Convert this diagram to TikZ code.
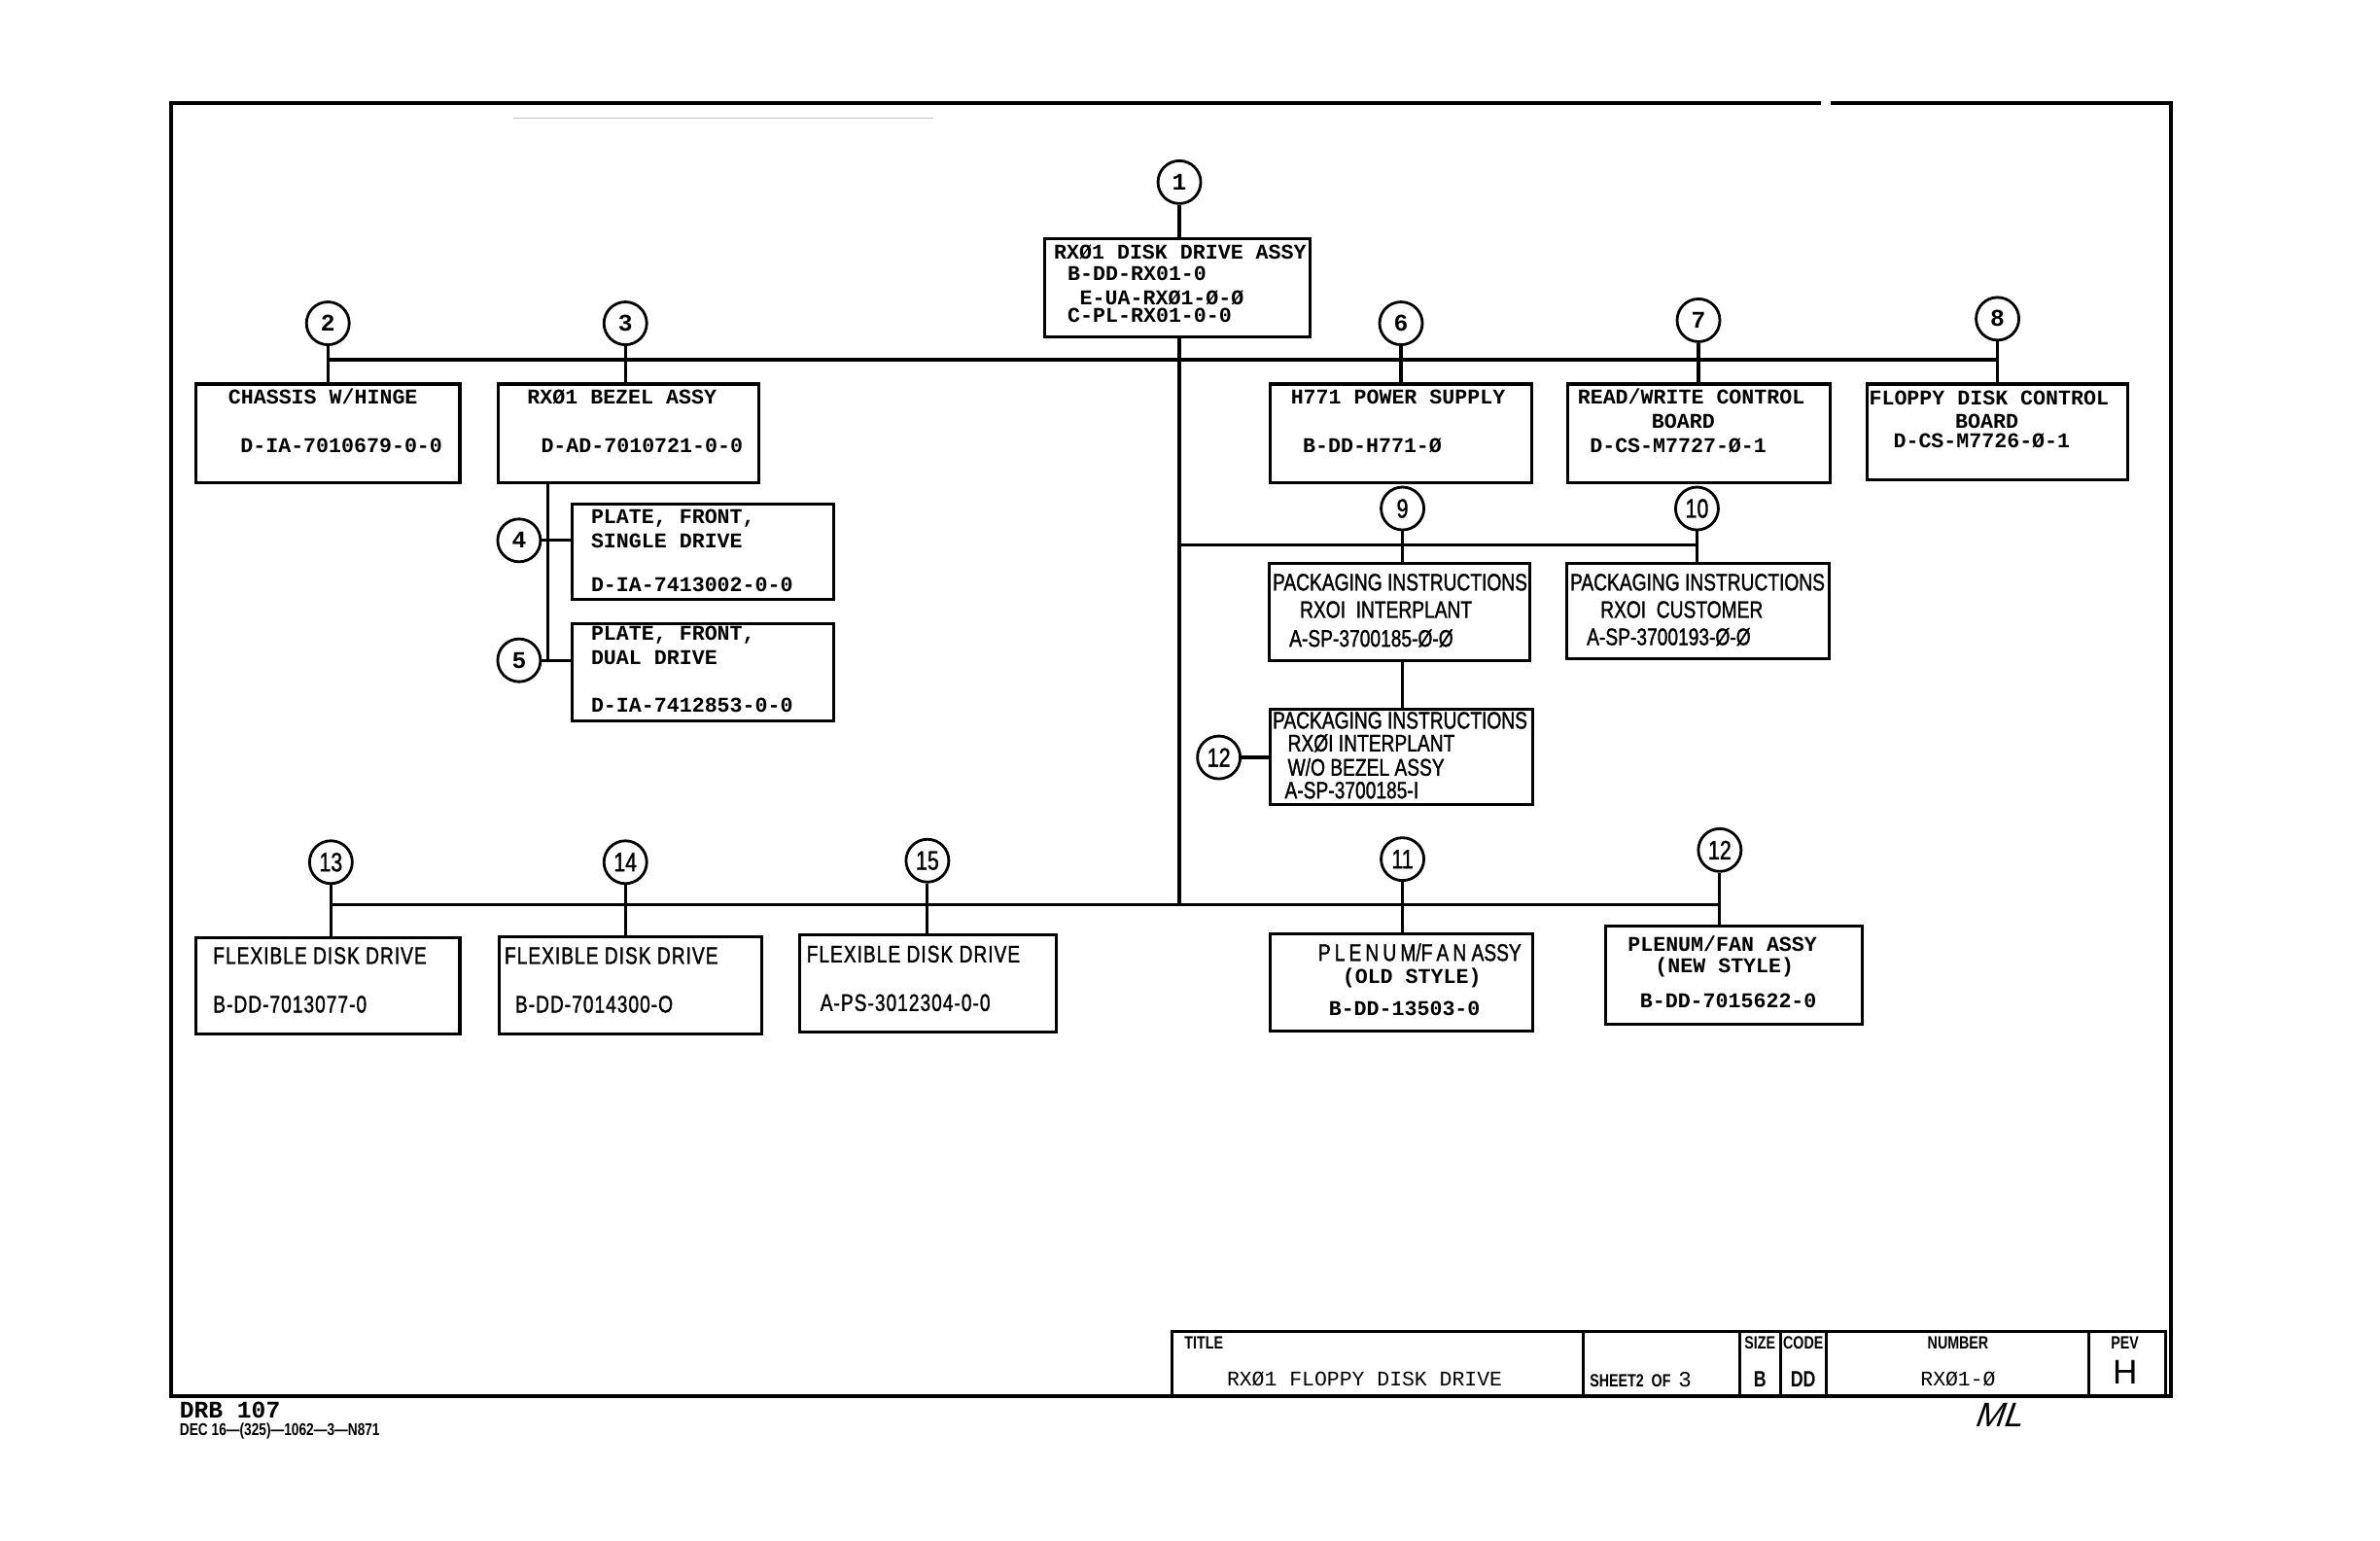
\documentclass[tikz,border=0pt]{standalone}
\usepackage{fontspec}
\usetikzlibrary{fit}
\newfontfamily\tw{Liberation Mono}
\newfontfamily\lt[FakeStretch=0.78, FakeBold=1.2]{Liberation Sans}
\newfontfamily\hd[FakeStretch=0.78]{Liberation Sans}
\newfontfamily\sig[FakeSlant=0.35]{Liberation Sans}
\tikzset{
  frame/.style={line width=1.1pt},
  box/.style={draw, line width=0.9pt, inner sep=0pt},
  circ/.style={draw, circle, line width=0.8pt, minimum size=0.44cm, inner sep=0pt},
  cnum/.style={circ, font=\tw\bfseries\fontsize{7}{7}\selectfont},
  snum/.style={circ, font=\lt\fontsize{7.8}{7.8}\selectfont},
  ln/.style={line width=0.9pt},
  ct/.style={anchor=base west, inner sep=0pt, font=\tw\bfseries\fontsize{6.15}{7}\selectfont},
  st/.style={anchor=base west, inner sep=0pt, font=\lt\fontsize{7}{7}\selectfont},
  wide/.style={font=\lt\addfontfeature{LetterSpace=4}\fontsize{7}{7}\selectfont},
  hdr/.style={anchor=base, inner sep=0pt, font=\hd\bfseries\fontsize{5.2}{6}\selectfont},
  tbt/.style={anchor=base, inner sep=0pt, font=\tw\fontsize{6.1}{7}\selectfont},
}
\begin{document}
\begin{tikzpicture}[x=0.015612cm, y=-0.015612cm]
\useasboundingbox (0,0) rectangle (1568,1015);
\fill[white] (0,0) rectangle (1568,1015);

% drawing frame
\draw[frame] (1200,68) -- (113,68) -- (113,920) -- (1430,920) -- (1430,68) -- (1206,68);
\draw[gray!50, line width=0.4pt] (338,78) -- (615,78);

% boxes
\node[box, fit={(688,157) (863,222)}] (b1) {};
\node[box, fit={(129,253) (303,318)}] (b2) {};
\node[box, fit={(328,253) (500,318)}] (b3) {};
\node[box, fit={(377,332) (549,395)}] (b4) {};
\node[box, fit={(377,411) (549,475)}] (b5) {};
\node[box, fit={(837,253) (1009,318)}] (b6) {};
\node[box, fit={(1033,253) (1206,318)}] (b7) {};
\node[box, fit={(1230,253) (1402,316)}] (b8) {};
\node[box, fit={(836,371) (1008,435)}] (b9) {};
\node[box, fit={(1032,371) (1205,434)}] (b10) {};
\node[box, fit={(837,467) (1010,530)}] (b12a) {};
\node[box, fit={(129,618) (303,681)}] (b13) {};
\node[box, fit={(329,617) (502,681)}] (b14) {};
\node[box, fit={(527,616) (696,680)}] (b15) {};
\node[box, fit={(837,615) (1010,679)}] (b11) {};
\node[box, fit={(1058,610) (1227,675)}] (b12b) {};

% circles
\node[cnum] (c1) at (777,120) {1};
\node[cnum] (c2) at (216,213) {2};
\node[cnum] (c3) at (412,213) {3};
\node[cnum] (c4) at (342,356) {4};
\node[cnum] (c5) at (342,435) {5};
\node[cnum] (c6) at (923,213) {6};
\node[cnum] (c7) at (1119,211) {7};
\node[cnum] (c8) at (1316,210) {8};
\node[snum] (c9) at (924,335) {9};
\node[snum] (c10) at (1118,335) {10};
\node[snum] (c12a) at (803,499) {12};
\node[snum] (c13) at (218,568) {13};
\node[snum] (c14) at (412,568) {14};
\node[snum] (c15) at (611,567) {15};
\node[snum] (c11) at (924,566) {11};
\node[snum] (c12b) at (1133,560) {12};

% bus coordinates
\coordinate (busT) at (0,237);
\coordinate (busM) at (0,359);
\coordinate (busB) at (0,596);
\coordinate (v3t) at (361,318);
\coordinate (v3b) at (361,435);

% connectors
\draw[ln] (c1.south) -- (c1.south |- b1.north);
\draw[ln] (c1 |- b1.south) -- (c1 |- busB);
\draw[ln] (c2 |- busT) -- (c8 |- busT);
\draw[ln] (c2.south) -- (c2.south |- b2.north);
\draw[ln] (c3.south) -- (c3.south |- b3.north);
\draw[ln] (c6.south) -- (c6.south |- b6.north);
\draw[ln] (c7.south) -- (c7.south |- b7.north);
\draw[ln] (c8.south) -- (c8.south |- b8.north);
\draw[ln] (v3t) -- (v3b);
\draw[ln] (c4.east) -- (c4.east -| b4.west);
\draw[ln] (c5.east) -- (c5.east -| b5.west);
\draw[ln] (c1 |- busM) -- (c10 |- busM);
\draw[ln] (c9.south) -- (c9.south |- b9.north);
\draw[ln] (c10.south) -- (c10.south |- b10.north);
\draw[ln] (c9 |- b9.south) -- (c9 |- b12a.north);
\draw[ln] (c12a.east) -- (c12a.east -| b12a.west);
\draw[ln] (c13 |- busB) -- (c12b |- busB);
\draw[ln] (c13.south) -- (c13.south |- b13.north);
\draw[ln] (c14.south) -- (c14.south |- b14.north);
\draw[ln] (c15.south) -- (c15.south |- b15.north);
\draw[ln] (c11.south) -- (c11.south |- b11.north);
\draw[ln] (c12b.south) -- (c12b.south |- b12b.north);

% texts
\node[ct] (t1a) at (694,171) {RXØ1 DISK DRIVE ASSY};
\node[ct] (t1b) at (703,185) {B-DD-RX01-0};
\node[ct] (t1c) at (711,201) {E-UA-RXØ1-Ø-Ø};
\node[ct] (t1d) at (703,212) {C-PL-RX01-0-0};

\node[ct] (t2a) at (150,266) {CHASSIS W/HINGE};
\node[ct] (t2b) at (158,298) {D-IA-7010679-0-0};
\node[ct] (t3a) at (347,266) {RXØ1 BEZEL ASSY};
\node[ct] (t3b) at (356,298) {D-AD-7010721-0-0};
\node[ct] (t4a) at (389,345) {PLATE, FRONT,};
\node[ct] (t4b) at (389,361) {SINGLE DRIVE};
\node[ct] (t4c) at (389,390) {D-IA-7413002-0-0};
\node[ct] (t5a) at (389,422) {PLATE, FRONT,};
\node[ct] (t5b) at (389,438) {DUAL DRIVE};
\node[ct] (t5c) at (389,469) {D-IA-7412853-0-0};
\node[ct] (t6a) at (850,266) {H771 POWER SUPPLY};
\node[ct] (t6b) at (858,298) {B-DD-H771-Ø};
\node[ct] (t7a) at (1039,266) {READ/WRITE CONTROL};
\node[ct, anchor=base] (t7b) at (1109,282) {BOARD};
\node[ct] (t7c) at (1047,298) {D-CS-M7727-Ø-1};
\node[ct] (t8a) at (1231,267) {FLOPPY DISK CONTROL};
\node[ct, anchor=base] (t8b) at (1309,282) {BOARD};
\node[ct] (t8c) at (1247,295) {D-CS-M7726-Ø-1};

\node[st] (t9a) at (838,389) {PACKAGING INSTRUCTIONS};
\node[st] (t9b) at (856,407) {RXOI~ INTERPLANT};
\node[st] (t9c) at (849,426) {A-SP-3700185-Ø-Ø};
\node[st] (t10a) at (1034,389) {PACKAGING INSTRUCTIONS};
\node[st] (t10b) at (1054,407) {RXOI~ CUSTOMER};
\node[st] (t10c) at (1045,425) {A-SP-3700193-Ø-Ø};
\node[st] (t12a1) at (838,480) {PACKAGING INSTRUCTIONS};
\node[st] (t12a2) at (848,495) {RXØI INTERPLANT};
\node[st] (t12a3) at (848,511) {W/O BEZEL ASSY};
\node[st] (t12a4) at (846,526) {A-SP-3700185-I};

\node[st, wide] (t13a) at (140,635) {FLEXIBLE DISK DRIVE};
\node[st, wide] (t13b) at (140,667) {B-DD-7013077-0};
\node[st, wide] (t14a) at (332,635) {FLEXIBLE DISK DRIVE};
\node[st, wide] (t14b) at (339,667) {B-DD-7014300-O};
\node[st, wide] (t15a) at (531,634) {FLEXIBLE DISK DRIVE};
\node[st, wide] (t15b) at (540,666) {A-PS-3012304-0-0};

\node[st] (t11a) at (868,633) {P\,L\,E\,N\,U\,M/F\,A\,N ASSY};
\node[ct] (t11b) at (884,648) {(OLD STYLE)};
\node[ct] (t11c) at (875,669) {B-DD-13503-0};
\node[ct] (t12b1) at (1072,627) {PLENUM/FAN ASSY};
\node[ct] (t12b2) at (1090,641) {(NEW STYLE)};
\node[ct] (t12b3) at (1080,664) {B-DD-7015622-0};

% title block
\node[box, fit={(772,877) (1427,920)}] (tb) {};
\draw[ln] (1043,877) -- (1043,920);
\draw[ln] (1146,877) -- (1146,920);
\draw[ln] (1173,877) -- (1173,920);
\draw[ln] (1203,877) -- (1203,920);
\draw[ln] (1376,877) -- (1376,920);
\node[hdr, anchor=base west] (hTitle) at (780,889) {TITLE};
\node[tbt] (tTitle) at (899,913) {RXØ1 FLOPPY DISK DRIVE};
\node[hdr, anchor=base west] (tSheet) at (1047,914) {SHEET2\ \ OF\ \ {\tw\mdseries\fontsize{6.4}{7}\selectfont 3}};
\node[hdr] (hSize) at (1159.5,889) {SIZE};
\node[hdr] (hCode) at (1188,889) {CODE};
\node[hdr, font=\hd\bfseries\fontsize{6.5}{7}\selectfont] (tSize) at (1159.5,914) {B};
\node[hdr, font=\hd\bfseries\fontsize{6.5}{7}\selectfont] (tCode) at (1188,914) {DD};
\node[hdr] (hNum) at (1290,889) {NUMBER};
\node[tbt] (tNum) at (1290,913) {RXØ1-Ø};
\node[hdr] (hRev) at (1400,889) {PEV};
\node[anchor=base, inner sep=0pt, font=\fontspec{Liberation Sans}\fontsize{10}{10}\selectfont] (tRev) at (1400,912) {H};

\node[anchor=base west, inner sep=0pt, font=\tw\bfseries\fontsize{7}{8}\selectfont] (drb) at (118,934) {DRB 107};
\node[anchor=base west, inner sep=0pt, font=\hd\bfseries\fontsize{5}{5}\selectfont] (dec) at (118,946) {DEC 16—(325)—1062—3—N871};
\node[anchor=base, inner sep=0pt, font=\sig\fontsize{10}{10}\selectfont] (sigML) at (1316,940) {ML};
\end{tikzpicture}
\end{document}
